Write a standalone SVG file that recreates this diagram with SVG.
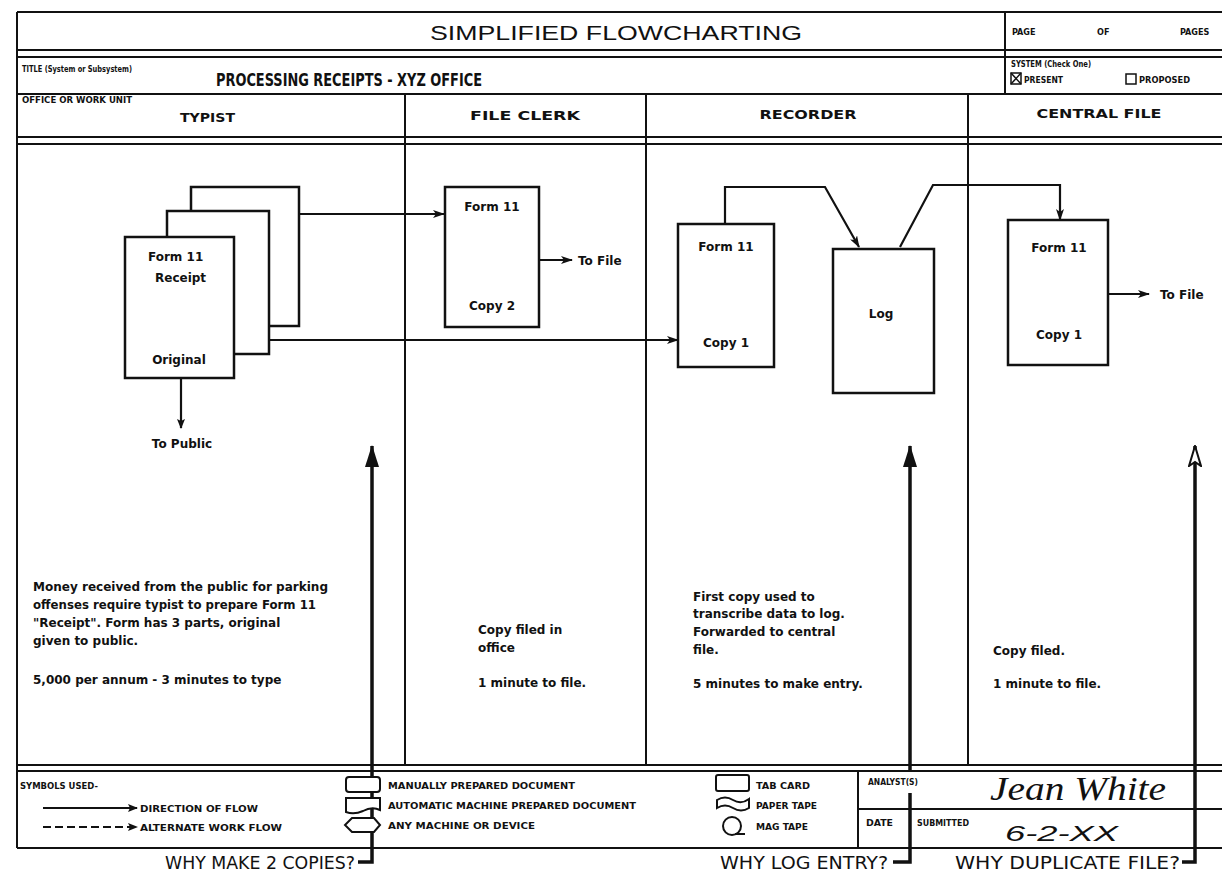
<svg xmlns="http://www.w3.org/2000/svg" width="1222" height="874" viewBox="0 0 1222 874">
<defs>
<style>
.frame{fill:none;stroke:#111;stroke-width:2}
.doc{fill:#fff;stroke:#111;stroke-width:2.5}
.conn{fill:none;stroke:#111;stroke-width:2.2}
.big{fill:none;stroke:#111;stroke-width:3.5}
.lbl{font-family:"DejaVu Sans",sans-serif;font-weight:bold;font-size:12px;fill:#111}
.note{font-family:"DejaVu Sans",sans-serif;font-weight:bold;font-size:12px;fill:#111}
.small{font-family:"DejaVu Sans Condensed","Liberation Sans Narrow","Liberation Sans",sans-serif;font-weight:bold;font-size:9px;fill:#111}
.col{font-family:"DejaVu Sans",sans-serif;font-weight:bold;font-size:13px;fill:#111}
.why{font-family:"DejaVu Sans Condensed","Liberation Sans",sans-serif;font-size:17px;fill:#111}
.sym{fill:#fff;stroke:#111;stroke-width:2}
</style>
<marker id="ah" viewBox="0 0 12 8" refX="11" refY="4" markerWidth="12" markerHeight="8" markerUnits="userSpaceOnUse" orient="auto">
<path d="M0,0 L12,4 L0,8 L3,4 Z" fill="#111"/>
</marker>
<marker id="ahs" viewBox="0 0 10 8" refX="9" refY="4" markerWidth="10" markerHeight="8" markerUnits="userSpaceOnUse" orient="auto">
<path d="M0,0 L10,4 L0,8 L2,4 Z" fill="#111"/>
</marker>
<marker id="bigh" viewBox="0 0 22 14" refX="21" refY="7" markerWidth="22" markerHeight="14" markerUnits="userSpaceOnUse" orient="auto">
<path d="M0,0 L22,7 L0,14 Z" fill="#111"/>
</marker>
<marker id="bigho" viewBox="0 0 22 14" refX="21" refY="7" markerWidth="22" markerHeight="14" markerUnits="userSpaceOnUse" orient="auto">
<path d="M1,1 L21,7 L1,13 L5,7 Z" fill="#fff" stroke="#111" stroke-width="2"/>
</marker>
</defs>
<rect width="1222" height="874" fill="#fff"/>

<g id="form-frame">
<path class="frame" d="M17,12 H1224 M17,12 V848 M17,50 H1224 M17,57 H1224 M17,94 H1224 M17,137 H1224 M17,144 H1224 M17,765 H1224 M17,771 H1224 M17,848 H1224"/>
<path class="frame" d="M1005,12 V94 M405,94 V765 M646,94 V765 M968,94 V765 M858,771 V848 M858,809 H1224"/>
<text x="616" y="40" text-anchor="middle" font-family="Liberation Sans,sans-serif" font-size="21" fill="#111" textLength="372" lengthAdjust="spacingAndGlyphs">SIMPLIFIED FLOWCHARTING</text>
<text class="small" x="1012" y="35">PAGE</text>
<text class="small" x="1097" y="35">OF</text>
<text class="small" x="1180" y="35">PAGES</text>
<text class="small" x="22" y="72" textLength="110" lengthAdjust="spacingAndGlyphs">TITLE (System or Subsystem)</text>
<text x="216" y="86" font-family="DejaVu Sans Condensed,DejaVu Sans,sans-serif" font-weight="bold" font-size="17" fill="#111" textLength="266" lengthAdjust="spacingAndGlyphs">PROCESSING RECEIPTS - XYZ OFFICE</text>
<text class="small" x="1011" y="67" textLength="80" lengthAdjust="spacingAndGlyphs">SYSTEM (Check One)</text>
<rect x="1011" y="73" width="10" height="11" fill="none" stroke="#111" stroke-width="1.5"/>
<path d="M1011,73 L1021,84 M1021,73 L1011,84" stroke="#111" stroke-width="1.5"/>
<text class="small" x="1024" y="83" textLength="39" lengthAdjust="spacingAndGlyphs">PRESENT</text>
<rect x="1126" y="74" width="10" height="10" fill="none" stroke="#111" stroke-width="1.5"/>
<text class="small" x="1139" y="83" textLength="51" lengthAdjust="spacingAndGlyphs">PROPOSED</text>
<text class="small" x="22" y="103" textLength="110" lengthAdjust="spacingAndGlyphs">OFFICE OR WORK UNIT</text>
<text class="col" x="180" y="122" textLength="55" lengthAdjust="spacingAndGlyphs">TYPIST</text>
<text class="col" x="525" y="120" text-anchor="middle" textLength="110" lengthAdjust="spacingAndGlyphs">FILE CLERK</text>
<text class="col" x="808" y="119" text-anchor="middle" textLength="97" lengthAdjust="spacingAndGlyphs">RECORDER</text>
<text class="col" x="1099" y="118" text-anchor="middle" textLength="125" lengthAdjust="spacingAndGlyphs">CENTRAL FILE</text>
</g>

<g id="connectors">
<path class="conn" d="M299,214 H444" marker-end="url(#ah)"/>
<path class="conn" d="M269,340 H678" marker-end="url(#ah)"/>
<path class="conn" d="M181,378 V428" marker-end="url(#ahs)"/>
<path class="conn" d="M539,260 H572" marker-end="url(#ah)"/>
<path class="conn" d="M725,224 V187 H825 L859,247" marker-end="url(#ah)"/>
<path class="conn" d="M900,247 L933,185 H1060 V220" marker-end="url(#ah)"/>
<path class="conn" d="M1108,294 H1149" marker-end="url(#ah)"/>
<path class="big" d="M358,862 H372 V446" marker-end="url(#bigh)"/>
<path class="big" d="M893,862 H910 V793"/>
<path class="big" d="M910,772 V446" marker-end="url(#bigh)"/>
<path class="big" d="M1182,862 H1195 V446" marker-end="url(#bigho)"/>
</g>

<g id="typist-form">
<rect class="doc" x="191" y="187" width="108" height="139"/>
<rect class="doc" x="167" y="211" width="102" height="143"/>
<rect class="doc" x="125" y="237" width="109" height="141"/>
<text class="lbl" x="148" y="261">Form 11</text>
<text class="lbl" x="155" y="282">Receipt</text>
<text class="lbl" x="179" y="364" text-anchor="middle">Original</text>
</g>
<g id="to-public"><text class="lbl" x="182" y="448" text-anchor="middle">To Public</text></g>

<g id="fileclerk-copy2">
<rect class="doc" x="445" y="187" width="94" height="140"/>
<text class="lbl" x="492" y="211" text-anchor="middle">Form 11</text>
<text class="lbl" x="492" y="310" text-anchor="middle">Copy 2</text>
</g>
<g id="fileclerk-tofile"><text class="lbl" x="578" y="265">To File</text></g>

<g id="recorder-copy1">
<rect class="doc" x="678" y="224" width="96" height="143"/>
<text class="lbl" x="726" y="251" text-anchor="middle">Form 11</text>
<text class="lbl" x="726" y="347" text-anchor="middle">Copy 1</text>
</g>

<g id="recorder-log">
<rect class="doc" x="833" y="249" width="101" height="144"/>
<text class="lbl" x="881" y="318" text-anchor="middle">Log</text>
</g>

<g id="central-copy1">
<rect class="doc" x="1008" y="220" width="100" height="145"/>
<text class="lbl" x="1059" y="252" text-anchor="middle">Form 11</text>
<text class="lbl" x="1059" y="339" text-anchor="middle">Copy 1</text>
</g>
<g id="central-tofile"><text class="lbl" x="1160" y="299">To File</text></g>

<g id="typist-note" class="note">
<text x="33" y="591" textLength="295" lengthAdjust="spacingAndGlyphs">Money received from the public for parking</text>
<text x="33" y="609" textLength="283" lengthAdjust="spacingAndGlyphs">offenses require typist to prepare Form 11</text>
<text x="33" y="627">"Receipt".  Form has 3 parts, original</text>
<text x="33" y="645">given to public.</text>
<text x="33" y="684">5,000 per annum - 3 minutes to type</text>
</g>
<g id="fileclerk-note" class="note">
<text x="478" y="634">Copy filed in</text>
<text x="478" y="652">office</text>
<text x="478" y="687">1 minute to file.</text>
</g>
<g id="recorder-note" class="note">
<text x="693" y="601">First copy used to</text>
<text x="693" y="618">transcribe data to log.</text>
<text x="693" y="636">Forwarded to central</text>
<text x="693" y="654">file.</text>
<text x="693" y="688">5 minutes to make entry.</text>
</g>
<g id="central-note" class="note">
<text x="993" y="655">Copy filed.</text>
<text x="993" y="688">1 minute to file.</text>
</g>

<g id="legend">
<text class="small" x="20" y="789" textLength="78" lengthAdjust="spacingAndGlyphs">SYMBOLS USED-</text>
<path d="M43,808 H137" stroke="#111" stroke-width="1.8" marker-end="url(#ahs)"/>
<text class="small" x="140" y="812" textLength="118" lengthAdjust="spacingAndGlyphs">DIRECTION OF FLOW</text>
<path d="M43,827 H137" stroke="#111" stroke-width="1.8" stroke-dasharray="8,4" marker-end="url(#ahs)"/>
<text class="small" x="140" y="831" textLength="142" lengthAdjust="spacingAndGlyphs">ALTERNATE WORK FLOW</text>
<rect class="sym" x="346" y="777" width="34" height="15" rx="3"/>
<path class="sym" d="M346,798 H380 V810 Q372,806 363,811 Q354,815 346,812 Z"/>
<path class="sym" d="M352,818 H374 L380,825 L374,832 H352 L345,825 Z"/>
<text class="small" x="388" y="789" textLength="187" lengthAdjust="spacingAndGlyphs">MANUALLY PREPARED DOCUMENT</text>
<text class="small" x="388" y="809" textLength="248" lengthAdjust="spacingAndGlyphs">AUTOMATIC MACHINE PREPARED DOCUMENT</text>
<text class="small" x="388" y="829" textLength="147" lengthAdjust="spacingAndGlyphs">ANY MACHINE OR DEVICE</text>
<rect class="sym" x="716" y="775" width="33" height="16" rx="2"/>
<path class="sym" d="M717,800 Q725,795 733,800 Q741,805 749,799 V808 Q741,813 733,808 Q725,803 717,808 Z"/>
<circle class="sym" cx="732" cy="826" r="9"/>
<path d="M735,834 H745" stroke="#111" stroke-width="2"/>
<text class="small" x="756" y="789" textLength="54" lengthAdjust="spacingAndGlyphs">TAB CARD</text>
<text class="small" x="756" y="809" textLength="61" lengthAdjust="spacingAndGlyphs">PAPER TAPE</text>
<text class="small" x="756" y="830" textLength="52" lengthAdjust="spacingAndGlyphs">MAG TAPE</text>
<text class="small" x="868" y="785" textLength="50" lengthAdjust="spacingAndGlyphs">ANALYST(S)</text>
<text class="small" x="866" y="826" textLength="27" lengthAdjust="spacingAndGlyphs">DATE</text>
<text class="small" x="917" y="826" textLength="52" lengthAdjust="spacingAndGlyphs">SUBMITTED</text>
<text x="990" y="800" font-family="Liberation Serif,serif" font-style="italic" font-size="34" fill="#111" textLength="176" lengthAdjust="spacingAndGlyphs">Jean White</text>
<text x="1005" y="841" font-family="Liberation Sans,sans-serif" font-style="italic" font-size="22" fill="#111" textLength="113" lengthAdjust="spacingAndGlyphs">6-2-XX</text>
</g>

<g id="questions">
<text class="why" x="165" y="869" textLength="190" lengthAdjust="spacingAndGlyphs">WHY MAKE 2 COPIES?</text>
<text class="why" x="720" y="869" textLength="168" lengthAdjust="spacingAndGlyphs">WHY LOG ENTRY?</text>
<text class="why" x="955" y="869" textLength="225" lengthAdjust="spacingAndGlyphs">WHY DUPLICATE FILE?</text>
</g>
</svg>
